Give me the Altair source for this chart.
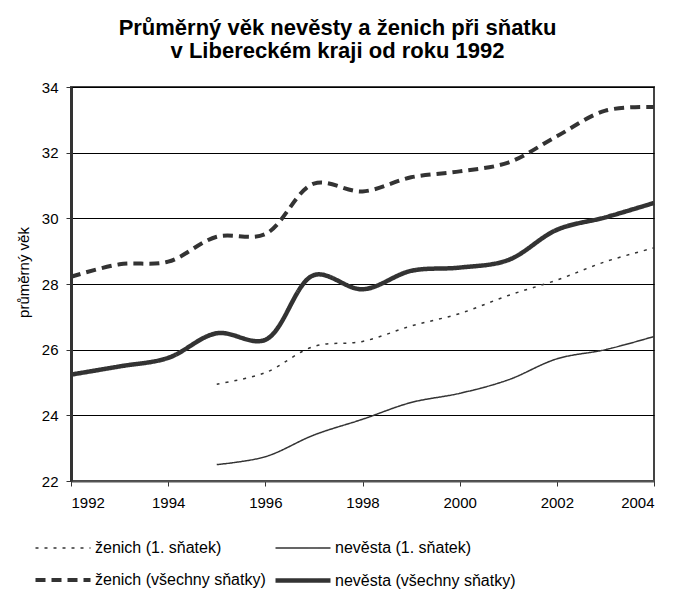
import altair as alt
import pandas as pd

years_all = [1992, 1993, 1994, 1995, 1996, 1997, 1998, 1999, 2000, 2001, 2002, 2003, 2004]
years_first = [1995, 1996, 1997, 1998, 1999, 2000, 2001, 2002, 2003, 2004]

zenich_first = [24.95, 25.3, 26.1, 26.25, 26.72, 27.1, 27.65, 28.12, 28.68, 29.1]
nevesta_first = [22.5, 22.74, 23.4, 23.88, 24.39, 24.67, 25.08, 25.72, 26.0, 26.4]
zenich_all = [28.22, 28.6, 28.68, 29.44, 29.52, 31.06, 30.82, 31.25, 31.43, 31.7, 32.5, 33.28, 33.39]
nevesta_all = [25.24, 25.49, 25.75, 26.5, 26.3, 28.27, 27.84, 28.4, 28.5, 28.73, 29.65, 30.03, 30.47]

series_names = ["ženich (1. sňatek)", "nevěsta (1. sňatek)",
                "ženich (všechny sňatky)", "nevěsta (všechny sňatky)"]

rows = []
for name, yrs, vals in [
    (series_names[0], years_first, zenich_first),
    (series_names[1], years_first, nevesta_first),
    (series_names[2], years_all, zenich_all),
    (series_names[3], years_all, nevesta_all),
]:
    for y, v in zip(yrs, vals):
        rows.append({"rok": y, "vek": v, "serie": name})
df = pd.DataFrame(rows)

FONT = "Liberation Sans"
INK = "#333333"

legend = alt.Legend(
    title=None, orient="none", legendX=-3, legendY=450, columns=2, direction="horizontal",
    columnPadding=0, rowPadding=12, symbolType="M-4.5,0H1", symbolSize=400,
    symbolStrokeColor=INK, labelFontSize=16, labelFont=FONT, labelColor="#000000",
    labelOffset=2, labelLimit=300, padding=0,
)

chart = alt.Chart(df).mark_line(interpolate="catmull-rom", color=INK).encode(
    x=alt.X("rok:Q", scale=alt.Scale(domain=[1992, 2004], nice=False),
            axis=alt.Axis(values=[1992, 1994, 1996, 1998, 2000, 2002, 2004], format="d",
                          title=None, grid=False, tickSize=5, labelPadding=9,
                          tickColor=INK, domainColor="#555555", domainWidth=2)),
    y=alt.Y("vek:Q", scale=alt.Scale(domain=[22, 34], nice=False, zero=False),
            axis=alt.Axis(values=[22, 24, 26, 28, 30, 32, 34], title="průměrný věk",
                          grid=True, gridColor="#000000", gridWidth=1, tickSize=5,
                          labelPadding=8, titlePadding=10, titleY=185, tickColor=INK,
                          domainColor=INK, domainWidth=3)),
    strokeDash=alt.StrokeDash("serie:N", sort=series_names,
                              scale=alt.Scale(type="ordinal", domain=series_names,
                                              range=[[3, 6], [1, 0], [10, 6], [1, 0]]),
                              legend=legend),
    strokeWidth=alt.StrokeWidth("serie:N", sort=series_names,
                                scale=alt.Scale(type="ordinal", domain=series_names,
                                                range=[1.5, 1.5, 4, 4.5]),
                                legend=legend),
).properties(
    width=583, height=394,
    title=alt.TitleParams(
        ["Průměrný věk nevěsty a ženich při sňatku", "v Libereckém kraji od roku 1992"],
        font=FONT, fontSize=22, fontWeight="bold", color="#000000", offset=17,
        anchor="middle", lineHeight=23, dx=-25,
    ),
    padding={"left": 63, "top": 79, "right": 14, "bottom": 110},
    autosize="none",
).configure_view(
    stroke="#444444", strokeWidth=2
).configure_axis(
    labelFont=FONT, labelFontSize=15, labelColor="#000000",
    titleFont=FONT, titleFontSize=15, titleFontWeight="normal", titleColor="#000000",
)

chart.save("out.html", embed_options={"renderer": "svg", "actions": False})
